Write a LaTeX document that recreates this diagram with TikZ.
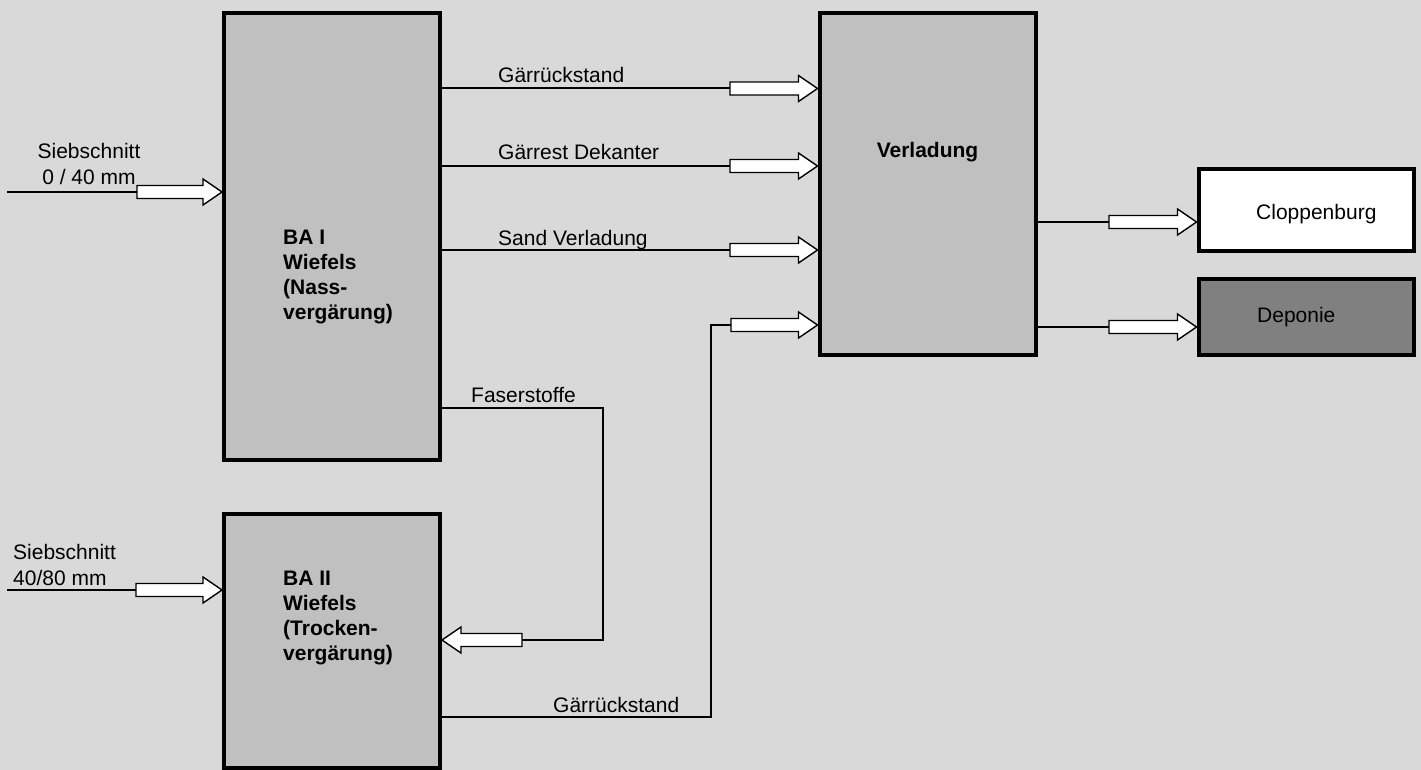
\documentclass[tikz,border=0pt]{standalone}
\usepackage{fontspec}
\setmainfont{Liberation Sans}
\usetikzlibrary{calc}
\definecolor{bgc}{HTML}{D9D9D9}
\definecolor{boxc}{HTML}{C0C0C0}
\definecolor{depc}{HTML}{808080}
\tikzset{
  boxstyle/.style={draw=black, line width=4pt, outer sep=2pt, inner sep=0pt, rectangle, anchor=north west, fill=boxc},
  conn/.style={draw=black, line width=2pt},
  blockarrow/.style={draw=black, fill=white, line width=1.4pt, line join=miter},
  lbl/.style={inner sep=0pt, font=\fontsize{21}{24.7}\selectfont},
  blbl/.style={inner sep=0pt, font=\fontsize{21}{24.9}\selectfont\bfseries, align=left},
}
\newcommand\blockarr[2]{%
  \draw[blockarrow] let \p1=#1, \p2=#2, \p3=($#2!19pt!#1$) in
    (\x1,\y1+6.5pt) -- (\x3,\y1+6.5pt) -- (\x3,\y1+13pt) -- (\x2,\y1) --
    (\x3,\y1-13pt) -- (\x3,\y1-6.5pt) -- (\x1,\y1-6.5pt) -- cycle;}
\begin{document}
\begin{tikzpicture}[x=1pt,y=-1pt]
\fill[bgc] (0,0) rectangle (1421,770);
\useasboundingbox (0,0) rectangle (1421,770);

% boxes
\node[boxstyle, minimum width=216pt, minimum height=446.5pt] (ba1) at (222,11) {};
\node[boxstyle, minimum width=216pt, minimum height=254.5pt] (ba2) at (222,511.5) {};
\node[boxstyle, minimum width=216pt, minimum height=342pt] (ver) at (817.5,11) {};
\node[boxstyle, fill=white, minimum width=215.5pt, minimum height=81pt] (clo) at (1196.5,167.5) {};
\node[boxstyle, fill=depc, minimum width=215.5pt, minimum height=76pt] (dep) at (1196.5,276.5) {};

% box texts (base anchor = baseline of the last line)
\node[blbl, anchor=base west] (ba1t) at (283,319.5) {BA I\\Wiefels\\(Nass-\\vergärung)};
\node[blbl, anchor=base west] (ba2t) at (283,660) {BA II\\Wiefels\\(Trocken-\\vergärung)};
\node[blbl, anchor=base] (vert) at (927.5,158) {Verladung};
\node[lbl, anchor=base west] (clot) at (1256,219) {Cloppenburg};
\node[lbl, anchor=base west] (dept) at (1257,322) {Deponie};

% Siebschnitt 0/40
\node[lbl, anchor=base] (s1l1) at (89,159) {Siebschnitt};
\node[lbl, anchor=base] (s1l2) at (89,185) {0 / 40 mm};
\coordinate (s1) at (7,192);
\coordinate (s1a) at (137,192);
\coordinate (s1t) at (ba1.west |- s1a);
\draw[conn] (s1) -- (s1a);
\blockarr{(s1a)}{(s1t)}

% Siebschnitt 40/80
\node[lbl, anchor=base west] (s2l1) at (13,559) {Siebschnitt};
\node[lbl, anchor=base west] (s2l2) at (13,585) {40/80 mm};
\coordinate (s2) at (7,590);
\coordinate (s2a) at (136,590);
\coordinate (s2t) at (ba2.west |- s2a);
\draw[conn] (s2) -- (s2a);
\blockarr{(s2a)}{(s2t)}

% Gaerrueckstand (top)
\node[lbl, anchor=base west] (g1l) at (498,83) {Gärrückstand};
\coordinate (g1a) at (730,88.5);
\coordinate (g1t) at (ver.west |- g1a);
\draw[conn] (ba1.east |- g1a) -- (g1a);
\blockarr{(g1a)}{(g1t)}

% Gaerrest Dekanter
\node[lbl, anchor=base west] (g2l) at (498,160) {Gärrest Dekanter};
\coordinate (g2a) at (730,166);
\coordinate (g2t) at (ver.west |- g2a);
\draw[conn] (ba1.east |- g2a) -- (g2a);
\blockarr{(g2a)}{(g2t)}

% Sand Verladung
\node[lbl, anchor=base west] (g3l) at (498,245) {Sand Verladung};
\coordinate (g3a) at (730,250);
\coordinate (g3t) at (ver.west |- g3a);
\draw[conn] (ba1.east |- g3a) -- (g3a);
\blockarr{(g3a)}{(g3t)}

% Faserstoffe
\node[lbl, anchor=base west] (fl) at (471,402) {Faserstoffe};
\coordinate (f1) at (603,408);
\coordinate (f2) at (603,640);
\coordinate (fa) at (522,640);
\coordinate (ft) at (ba2.east |- fa);
\draw[conn] (ba1.east |- f1) -- (f1) -- (f2) -- (fa);
\blockarr{(fa)}{(ft)}

% Gaerrueckstand (bottom)
\node[lbl, anchor=base west] (g4l) at (553,712) {Gärrückstand};
\coordinate (h1) at (711,717);
\coordinate (h2) at (711,325);
\coordinate (ha) at (731,325);
\coordinate (ht) at (ver.west |- ha);
\draw[conn] (ba2.east |- h1) -- (h1) -- (h2) -- (ha);
\blockarr{(ha)}{(ht)}

% Verladung -> Cloppenburg / Deponie
\coordinate (c1) at (1109,222);
\coordinate (ct) at (clo.west |- c1);
\draw[conn] (ver.east |- c1) -- (c1);
\blockarr{(c1)}{(ct)}
\coordinate (d1) at (1109,327);
\coordinate (dt) at (dep.west |- d1);
\draw[conn] (ver.east |- d1) -- (d1);
\blockarr{(d1)}{(dt)}
\end{tikzpicture}
\end{document}
